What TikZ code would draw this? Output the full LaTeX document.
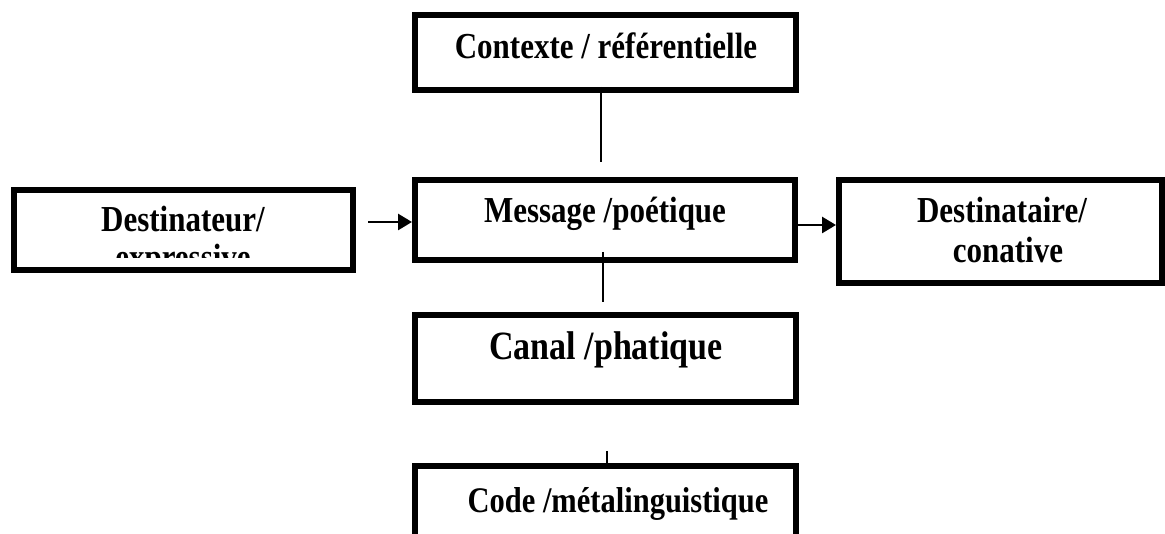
\documentclass[tikz,border=0pt]{standalone}
\usepackage{fontspec}
\setmainfont{Liberation Serif}
\usetikzlibrary{arrows.meta}
\newcommand{\vst}[1]{\scalebox{1}[1.18]{#1}}
\begin{document}
\begin{tikzpicture}[x=1pt,y=-1pt,
 box/.style={draw, line width=6pt, inner sep=0pt, outer sep=0pt, line join=miter},
 lbl/.style={anchor=base, inner sep=0pt, font=\bfseries\fontsize{31}{36}\selectfont},
 big/.style={lbl, font=\bfseries\fontsize{34}{40}\selectfont},
 link/.style={line width=1.6pt},
 arr/.style={line width=2.8pt, -{Triangle[length=14pt,width=16pt]}}]
\useasboundingbox (0,0) rectangle (1165,534);
% boxes
\node[box, minimum width=381pt, minimum height=75pt] (ctx) at (605.5,52.5) {};
\node[box, minimum width=380pt, minimum height=80pt] (msg) at (605,220) {};
\node[box, minimum width=339pt, minimum height=80pt] (dst) at (183.5,230) {};
\node[box, minimum width=323pt, minimum height=103pt] (dtr) at (1000.5,231.5) {};
\node[box, minimum width=381pt, minimum height=87pt] (can) at (605.5,358.5) {};
\coordinate (codeL) at (415,466);
\coordinate (codeR) at (796,466);
\draw[line width=6pt, line join=miter] (415,545) -- (codeL) -- (codeR) -- (796,545);
% labels
\node[lbl] (tctx) at (606,59) {\vst{Contexte / référentielle}};
\node[lbl] (tmsg) at (605,223) {\vst{Message /poétique}};
\begin{scope}
\clip (17,193) rectangle (350,258);
\node[lbl] (tdst1) at (183,232) {\vst{Destinateur/}};
\node[lbl] (tdst2) at (183,270) {\vst{expressive}};
\end{scope}
\node[lbl] (tdtr1) at (1002,223) {\vst{Destinataire/}};
\node[lbl] (tdtr2) at (1008,263) {\vst{conative}};
\node[big] (tcan) at (606,360) {\vst{Canal /phatique}};
\node[lbl, font=\bfseries\fontsize{30.5}{36}\selectfont] (tcode) at (618,512) {\vst{Code /métalinguistique}};
% connectors
\coordinate (c1) at (601,162);
\draw[link] (c1 |- ctx.south) ++(0,-3) -- (c1);
\coordinate (m1) at (603,252);
\coordinate (m2) at (603,302);
\draw[link] (m1) -- (m2);
\coordinate (k1) at (607,451);
\draw[link] (k1) -- (k1 |- codeL);
\coordinate (a1) at (368,222);
\coordinate (a2) at (412,222);
\draw[arr] (a1) -- (a2);
\coordinate (b1) at (798,225);
\coordinate (b2) at (836,225);
\draw[arr] (b1) -- (b2);
\end{tikzpicture}
\end{document}
